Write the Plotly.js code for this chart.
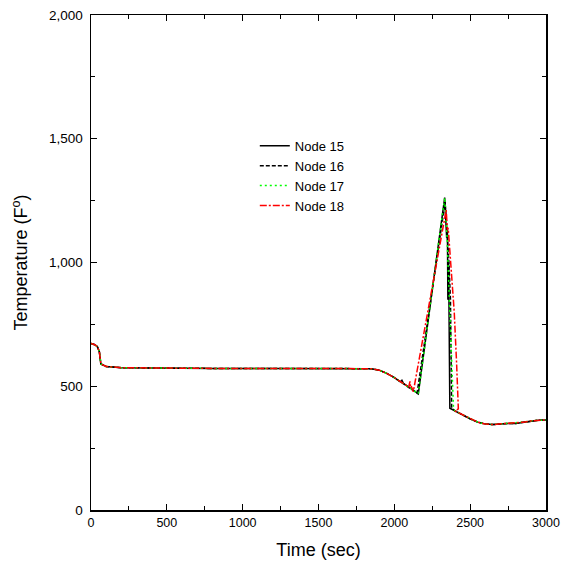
<!DOCTYPE html>
<html>
<head>
<meta charset="utf-8">
<script src="https://cdn.plot.ly/plotly-3.0.1.min.js"></script>
<style>html,body{margin:0;padding:0;background:#fff;}#chart{width:570px;height:571px;}</style>
</head>
<body>
<div id="chart"></div>
<script>
// Shared early/flat portion and tail (sec, °F)
const baseTime = [0, 25, 42, 55, 65, 100, 200, 400, 800, 1200, 1600, 1800, 1850, 1900, 1950, 2000];
const baseTemp = [673, 668, 660, 640, 590, 580, 575, 573, 572, 572, 572, 572, 571, 565, 552, 535];
const tailTime = [2400, 2450, 2500, 2550, 2600, 2650, 2700, 2750, 2800, 2850, 2900, 2950, 3000];
const tailTemp = [400, 385, 368, 355, 347, 345, 348, 350, 350, 355, 360, 363, 364];

// Transient portion for each node
const n15Time = [2040, 2050, 2055, 2060, 2100, 2158, 2332, 2345, 2350, 2353, 2358, 2366, 2373];
const n15Temp = [518, 524, 516, 512, 495, 469, 1262, 1100, 1140, 850, 1000, 411, 409];
const n16Time = [2050, 2100, 2150, 2335, 2348, 2360, 2370, 2378, 2385];
const n16Temp = [515, 495, 472, 1245, 1130, 1000, 850, 411, 409];
const n17Time = [2050, 2100, 2158, 2332, 2340, 2348, 2360, 2375, 2385, 2390];
const n17Temp = [515, 495, 470, 1262, 1200, 1100, 900, 650, 420, 410];
const n18Time = [2050, 2095, 2103, 2108, 2112, 2125, 2342, 2350, 2355, 2365, 2380, 2395, 2410, 2422];
const n18Temp = [515, 497, 520, 495, 500, 478, 1212, 1130, 1140, 1050, 950, 800, 600, 409];

const names = ['Node 15', 'Node 16', 'Node 17', 'Node 18'];
const colors = ['#000000', '#000000', '#00ff00', '#ff0000'];
const dashes = ['solid', '4px,2px', '2px,3px', '7px,2px,2px,2px'];

const segT = [n15Time, n16Time, n17Time, n18Time];
const segY = [n15Temp, n16Temp, n17Temp, n18Temp];

const traces = names.map((nm, i) => ({
  x: baseTime.concat(segT[i], tailTime),
  y: baseTemp.concat(segY[i], tailTemp),
  name: nm,
  type: 'scatter',
  mode: 'lines',
  line: {color: colors[i], width: 1.5, dash: dashes[i]}
}));

const FONT = 'Liberation Sans, Arial, sans-serif';
const axisCommon = {
  showline: true, linecolor: '#000', linewidth: 1.5, mirror: 'ticks',
  ticks: 'inside', ticklen: 6, tickwidth: 1.2, tickcolor: '#000',
  showgrid: false, zeroline: false
};

const layout = {
  width: 570, height: 571,
  margin: {l: 91, r: 24, t: 15, b: 61},
  paper_bgcolor: '#fff', plot_bgcolor: '#fff',
  showlegend: true,
  legend: {x: 0.36, y: 0.766, xanchor: 'left', yanchor: 'top', bgcolor: 'rgba(0,0,0,0)',
    tracegroupgap: 0,
    font: {family: FONT, size: 13, color: '#000'}},
  xaxis: Object.assign({}, axisCommon, {
    range: [0, 3000], dtick: 500, tickformat: 'd',
    tickfont: {family: 'Liberation Sans Narrow, Liberation Sans, Arial, sans-serif', size: 12.5, color: '#000'},
    minor: {dtick: 250, ticks: 'inside', ticklen: 4, tickcolor: '#000', tickwidth: 1},
    title: {text: 'Time (sec)', font: {family: FONT, size: 18, color: '#000'}, standoff: 15}
  }),
  yaxis: Object.assign({}, axisCommon, {
    range: [0, 2000], dtick: 500, tickformat: ',d',
    tickfont: {family: FONT, size: 13.5, color: '#000'},
    ticklabelstandoff: 4,
    minor: {dtick: 250, ticks: 'inside', ticklen: 4, tickcolor: '#000', tickwidth: 1},
    title: {text: 'Temperature (F<sup>o</sup>)', font: {family: FONT, size: 18, color: '#000'}, standoff: 16}
  })
};

Plotly.newPlot('chart', traces, layout, {displayModeBar: false, staticPlot: true});
</script>
</body>
</html>
